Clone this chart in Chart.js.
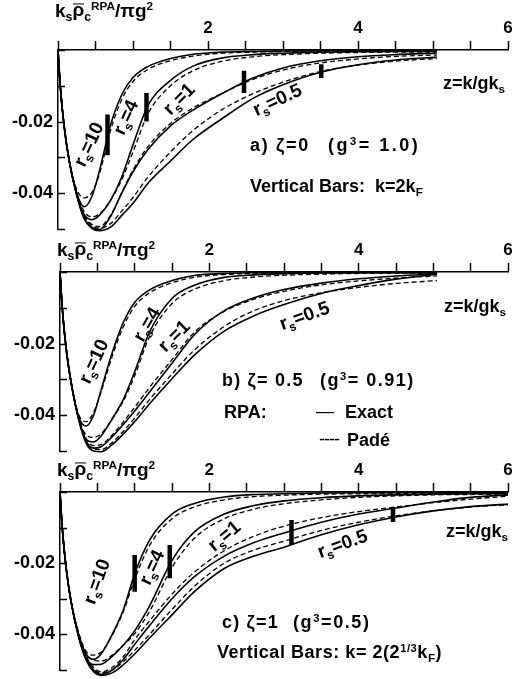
<!DOCTYPE html>
<html>
<head>
<meta charset="utf-8">
<script src="https://cdn.jsdelivr.net/npm/chart.js@4.4.0/dist/chart.umd.min.js"></script>
<style>
  html, body { margin: 0; padding: 0; background: #fff; }
  #page { position: relative; width: 517px; height: 679px; overflow: hidden; font-family: "Liberation Sans", Arial, sans-serif; font-weight: bold; color: #000; }
  canvas { position: absolute; left: 0; }
  .t { position: absolute; white-space: pre; transform: translateY(-50%); font-size: 18px; line-height: 1; }
  .ttl { font-size: 19px; }
  .rs { position: absolute; white-space: pre; font-size: 19px; line-height: 1; transform-origin: center; }
  sub { font-size: 65%; vertical-align: -0.35em; }
  sup { font-size: 62%; vertical-align: 0.55em; }
  .thin { font-weight: normal; }
  .rho { position: relative; }
  .rho::after { content: ""; position: absolute; left: 1px; right: 0px; top: 0.17em; border-top: 1.5px solid #000; }
</style>
</head>
<body>
<div id="page">
  <canvas id="chartA" width="517" height="240" style="top:0px"></canvas>
  <canvas id="chartB" width="517" height="240" style="top:222px"></canvas>
  <canvas id="chartC" width="517" height="237" style="top:442px"></canvas>

  <!-- panel a text -->
  <div class="t ttl" style="left:55px; top:12px">k<sub>s</sub><span class="rho">ρ</span><sub>c</sub><sup>RPA</sup>/πg<sup>2</sup></div>
  <div class="t" style="left:443px; top:84px">z=k/gk<sub>s</sub></div>
  <div class="t" style="left:250px; top:145px; letter-spacing:1.7px">a) ζ=0</div>
  <div class="t" style="left:328px; top:145px; letter-spacing:2.5px">(g<sup>3</sup>= 1.0)</div>
  <div class="t" style="left:250px; top:187px">Vertical Bars:  k=2k<sub>F</sub></div>
  <div class="rs" style="left:90px; top:145px; transform:translate(-50%,-50%) rotate(-65deg)">r<sub>s</sub>=10</div>
  <div class="rs" style="left:127px; top:118px; transform:translate(-50%,-50%) rotate(-65deg)">r<sub>s</sub>=4</div>
  <div class="rs" style="left:180px; top:100px; transform:translate(-50%,-50%) rotate(-45deg)">r<sub>s</sub>=1</div>
  <div class="rs" style="left:278px; top:101px; transform:translate(-50%,-50%) rotate(-25deg)">r<sub>s</sub>=0.5</div>

  <!-- panel b text -->
  <div class="t ttl" style="left:57px; top:251px">k<sub>s</sub><span class="rho">ρ</span><sub>c</sub><sup>RPA</sup>/πg<sup>2</sup></div>
  <div class="t" style="left:444px; top:307px">z=k/gk<sub>s</sub></div>
  <div class="t" style="left:222px; top:380px; letter-spacing:1.2px">b) ζ= 0.5</div>
  <div class="t" style="left:320px; top:380px; letter-spacing:1.5px">(g<sup>3</sup>= 0.91)</div>
  <div class="t" style="left:224px; top:412px">RPA:</div>
  <div class="t thin" style="left:316px; top:411px">—</div>
  <div class="t" style="left:345px; top:412px">Exact</div>
  <div class="t thin" style="left:319px; top:439px; letter-spacing:-1px">----</div>
  <div class="t" style="left:347px; top:440px">Padé</div>
  <div class="rs" style="left:95px; top:362px; transform:translate(-50%,-50%) rotate(-65deg)">r<sub>s</sub>=10</div>
  <div class="rs" style="left:148px; top:325px; transform:translate(-50%,-50%) rotate(-60deg)">r<sub>s</sub>=4</div>
  <div class="rs" style="left:175px; top:337px; transform:translate(-50%,-50%) rotate(-45deg)">r<sub>s</sub>=1</div>
  <div class="rs" style="left:305px; top:317px; transform:translate(-50%,-50%) rotate(-20deg)">r<sub>s</sub>=0.5</div>

  <!-- panel c text -->
  <div class="t ttl" style="left:57px; top:471px">k<sub>s</sub><span class="rho">ρ</span><sub>c</sub><sup>RPA</sup>/πg<sup>2</sup></div>
  <div class="t" style="left:446px; top:532px">z=k/gk<sub>s</sub></div>
  <div class="t" style="left:222px; top:622px; letter-spacing:1.2px">c) ζ=1</div>
  <div class="t" style="left:293px; top:622px; letter-spacing:1.6px">(g<sup>3</sup>=0.5)</div>
  <div class="t" style="left:217px; top:653px; letter-spacing:0.55px">Vertical Bars: k= 2(2<sup>1/3</sup>k<sub>F</sub>)</div>
  <div class="rs" style="left:98px; top:582px; transform:translate(-50%,-50%) rotate(-70deg)">r<sub>s</sub>=10</div>
  <div class="rs" style="left:153px; top:568px; transform:translate(-50%,-50%) rotate(-65deg)">r<sub>s</sub>=4</div>
  <div class="rs" style="left:225px; top:537px; transform:translate(-50%,-50%) rotate(-40deg)">r<sub>s</sub>=1</div>
  <div class="rs" style="left:343px; top:545px; transform:translate(-50%,-50%) rotate(-20deg)">r<sub>s</sub>=0.5</div>
</div>

<script>
// tick labels
const xTickLabels = [2, 4, 6]
const yTickLabels = [-0.02, -0.04]

// z grid (panels a, b) and panel c grid
const zAB = [0, 0.03, 0.08, 0.15, 0.25, 0.35, 0.45, 0.55, 0.7, 0.85, 1.0, 1.2, 1.5, 1.8, 2.2, 2.6, 3.0, 3.5, 4.0, 4.5, 5.05]
const zC = [0, 0.03, 0.08, 0.15, 0.25, 0.35, 0.45, 0.55, 0.7, 0.85, 1.0, 1.2, 1.5, 1.8, 2.2, 2.6, 3.0, 3.5, 4.0, 4.5, 5.0, 5.5, 6.0]

// panel a: zeta = 0
const aExact10 = [0, -0.010, -0.021, -0.031, -0.0400, -0.0438, -0.0410, -0.0340, -0.0210, -0.0125, -0.0077, -0.0046, -0.0024, -0.0012, -0.0006, -0.0004, -0.0003, -0.0002, -0.0001, -0.0001, -0.0001]
const aPade10 = [0, -0.010, -0.021, -0.031, -0.0390, -0.0413, -0.0398, -0.0348, -0.0225, -0.0138, -0.0088, -0.0054, -0.0030, -0.0017, -0.0009, -0.0006, -0.0004, -0.0003, -0.0002, -0.0002, -0.0002]
const aExact4 = [0, -0.010, -0.021, -0.031, -0.0405, -0.0460, -0.0474, -0.0462, -0.0420, -0.0355, -0.0265, -0.0155, -0.0085, -0.0045, -0.0022, -0.0013, -0.0009, -0.0006, -0.0005, -0.0004, -0.0004]
const aPade4 = [0, -0.010, -0.021, -0.031, -0.0400, -0.0452, -0.0466, -0.0458, -0.0420, -0.0362, -0.0285, -0.0178, -0.0100, -0.0058, -0.0031, -0.0019, -0.0013, -0.0009, -0.0007, -0.0006, -0.0006]
const aExact1 = [0, -0.010, -0.021, -0.031, -0.0405, -0.0470, -0.0495, -0.0502, -0.0465, -0.0400, -0.0340, -0.0278, -0.0212, -0.0168, -0.0120, -0.0078, -0.0050, -0.0030, -0.0019, -0.0013, -0.0009]
const aPade1 = [0, -0.010, -0.021, -0.031, -0.0400, -0.0462, -0.0487, -0.0493, -0.0462, -0.0398, -0.0335, -0.0270, -0.0205, -0.0162, -0.0120, -0.0082, -0.0056, -0.0036, -0.0025, -0.0018, -0.0014]
const aExact05 = [0, -0.010, -0.021, -0.031, -0.0405, -0.0472, -0.0498, -0.0505, -0.0495, -0.0462, -0.0428, -0.0372, -0.0310, -0.0250, -0.0190, -0.0135, -0.0097, -0.0062, -0.0041, -0.0028, -0.0020]
const aPade05 = [0, -0.010, -0.021, -0.031, -0.0400, -0.0465, -0.0490, -0.0498, -0.0485, -0.0450, -0.0412, -0.0355, -0.0285, -0.0225, -0.0165, -0.0122, -0.0090, -0.0060, -0.0042, -0.0031, -0.0024]
// vertical bars at k = 2kF (z, top, bottom)
const aBarZ = [0.66, 1.18, 2.48, 3.51]
const aBarTop = [-0.0180, -0.0120, -0.0058, -0.0040]
const aBarBot = [-0.0294, -0.0200, -0.0120, -0.0078]

// panel b: zeta = 0.5
const bExact10 = [0, -0.010, -0.021, -0.031, -0.0405, -0.0430, -0.0400, -0.0330, -0.0225, -0.0140, -0.0085, -0.0050, -0.0024, -0.0010, -0.0004, -0.0002, -0.0001, -0.0001, -0.0001, -0.0001, -0.0001]
const bPade10 = [0, -0.010, -0.021, -0.031, -0.0398, -0.0418, -0.0392, -0.0335, -0.0235, -0.0152, -0.0096, -0.0058, -0.0030, -0.0015, -0.0007, -0.0004, -0.0003, -0.0002, -0.0002, -0.0002, -0.0002]
const bExact4 = [0, -0.010, -0.021, -0.031, -0.0410, -0.0468, -0.0475, -0.0458, -0.0410, -0.0355, -0.0279, -0.0167, -0.0074, -0.0037, -0.0015, -0.0008, -0.0005, -0.0003, -0.0002, -0.0002, -0.0002]
const bPade4 = [0, -0.010, -0.021, -0.031, -0.0405, -0.0455, -0.0462, -0.0452, -0.0410, -0.0360, -0.0290, -0.0180, -0.0088, -0.0048, -0.0024, -0.0014, -0.0009, -0.0006, -0.0004, -0.0003, -0.0003]
const bExact1 = [0, -0.010, -0.021, -0.031, -0.0410, -0.0472, -0.0492, -0.0488, -0.0460, -0.0425, -0.0388, -0.0335, -0.0255, -0.0175, -0.0108, -0.0072, -0.0049, -0.0031, -0.0019, -0.0011, -0.0005]
const bPade1 = [0, -0.010, -0.021, -0.031, -0.0405, -0.0465, -0.0485, -0.0482, -0.0455, -0.0418, -0.0378, -0.0322, -0.0245, -0.0168, -0.0110, -0.0076, -0.0054, -0.0036, -0.0025, -0.0017, -0.0011]
const bExact05 = [0, -0.010, -0.021, -0.031, -0.0412, -0.0478, -0.0500, -0.0502, -0.0482, -0.0452, -0.0418, -0.0368, -0.0298, -0.0232, -0.0165, -0.0122, -0.0091, -0.0060, -0.0038, -0.0020, -0.0006]
const bPade05 = [0, -0.010, -0.021, -0.031, -0.0408, -0.0472, -0.0494, -0.0496, -0.0476, -0.0444, -0.0408, -0.0356, -0.0285, -0.0218, -0.0152, -0.0108, -0.0080, -0.0058, -0.0043, -0.0032, -0.0024]

// panel c: zeta = 1
const cExact10 = [0, -0.010, -0.021, -0.031, -0.0400, -0.0455, -0.0470, -0.0455, -0.0400, -0.0330, -0.0230, -0.0135, -0.0062, -0.0032, -0.0014, -0.0007, -0.0005, -0.0003, -0.0002, -0.0002, -0.0001, -0.0001, -0.0001]
const cPade10 = [0, -0.010, -0.021, -0.031, -0.0395, -0.0448, -0.0458, -0.0450, -0.0402, -0.0335, -0.0245, -0.0150, -0.0075, -0.0042, -0.0022, -0.0013, -0.0009, -0.0006, -0.0005, -0.0004, -0.0004, -0.0003, -0.0003]
const cExact4 = [0, -0.010, -0.021, -0.031, -0.0405, -0.0465, -0.0485, -0.0484, -0.0462, -0.0430, -0.0390, -0.0320, -0.0192, -0.0112, -0.0062, -0.0038, -0.0025, -0.0016, -0.0011, -0.0008, -0.0006, -0.0005, -0.0004]
const cPade4 = [0, -0.010, -0.021, -0.031, -0.0400, -0.0458, -0.0472, -0.0475, -0.0458, -0.0430, -0.0398, -0.0335, -0.0212, -0.0130, -0.0075, -0.0048, -0.0033, -0.0022, -0.0015, -0.0011, -0.0008, -0.0007, -0.0006]
const cExact1 = [0, -0.010, -0.021, -0.031, -0.0405, -0.0468, -0.0500, -0.0512, -0.0500, -0.0470, -0.0428, -0.0375, -0.0300, -0.0238, -0.0180, -0.0142, -0.0115, -0.0085, -0.0062, -0.0045, -0.0028, -0.0015, -0.0008]
const cPade1 = [0, -0.010, -0.021, -0.031, -0.0400, -0.0462, -0.0493, -0.0505, -0.0493, -0.0462, -0.0415, -0.0362, -0.0287, -0.0225, -0.0165, -0.0124, -0.0096, -0.0072, -0.0055, -0.0042, -0.0030, -0.0020, -0.0012]
const cExact05 = [0, -0.010, -0.021, -0.031, -0.0408, -0.0472, -0.0505, -0.0515, -0.0508, -0.0485, -0.0455, -0.0410, -0.0345, -0.0280, -0.0215, -0.0180, -0.0155, -0.0120, -0.0092, -0.0070, -0.0053, -0.0041, -0.0034]
const cPade05 = [0, -0.010, -0.021, -0.031, -0.0403, -0.0466, -0.0498, -0.0508, -0.0500, -0.0476, -0.0445, -0.0400, -0.0330, -0.0265, -0.0200, -0.0163, -0.0138, -0.0108, -0.0085, -0.0067, -0.0053, -0.0042, -0.0036]
// vertical bars at k = 2(2^(1/3) kF)
const cBarZ = [1.0, 1.47, 3.1, 4.46]
const cBarTop = [-0.0177, -0.0149, -0.0079, -0.0042]
const cBarBot = [-0.0280, -0.0242, -0.0149, -0.0084]

Chart.defaults.font.family = "'Liberation Sans', Arial, sans-serif"
Chart.defaults.font.weight = "bold"
Chart.defaults.color = "#000"

function curve(zs, vs, dashed) {
  return {
    data: zs.map((z, i) => ({ x: z, y: vs[i] })),
    borderColor: "#000",
    borderWidth: dashed ? 1.3 : 1.6,
    borderDash: dashed ? [5, 3] : [],
    pointRadius: 0,
    cubicInterpolationMode: "monotone",
    fill: false,
    clip: false,
  }
}

function bars(zs, tops, bots) {
  return zs.map((z, i) => ({
    data: [{ x: z, y: tops[i] }, { x: z, y: bots[i] }],
    borderColor: "#000",
    borderWidth: 4.5,
    borderCapStyle: "butt",
    pointRadius: 0,
    clip: false,
  }))
}

// y ticks point inward on the original figure
const innerTicks = {
  id: "innerTicks",
  afterDraw(chart) {
    const ys = chart.scales.y
    const area = chart.chartArea
    const ctx = chart.ctx
    ctx.save()
    ctx.strokeStyle = "#000"
    ctx.lineWidth = 1.5
    ys.ticks.forEach((t) => {
      const py = Math.round(ys.getPixelForValue(t.value)) + 0.5
      ctx.beginPath()
      ctx.moveTo(area.left, py)
      ctx.lineTo(area.left + 7, py)
      ctx.stroke()
    })
    ctx.restore()
  },
}

function makeChart(id, datasets, yWidth, bottomPad) {
  return new Chart(document.getElementById(id), {
    type: "line",
    data: { datasets },
    plugins: [innerTicks],
    options: {
      responsive: false,
      animation: false,
      events: [],
      layout: { padding: { left: 0, top: 0, right: 9, bottom: bottomPad } },
      plugins: { legend: { display: false }, tooltip: { enabled: false } },
      scales: {
        x: {
          type: "linear",
          position: "top",
          min: 0,
          max: 6,
          afterFit: (s) => { s.height = 50; s.paddingLeft = 0; s.paddingRight = 0 },
          ticks: {
            stepSize: 0.5,
            autoSkip: false,
            maxRotation: 0,
            padding: 2,
            font: { size: 17, weight: "bold" },
            callback: (v) => (xTickLabels.includes(v) ? String(v) : ""),
          },
          grid: { drawOnChartArea: false, drawTicks: true, tickLength: 9, tickColor: "#000", tickWidth: 1.5 },
          border: { color: "#000", width: 1.5 },
        },
        y: {
          type: "linear",
          min: -0.05,
          max: 0,
          afterFit: (s) => { s.width = yWidth; s.paddingTop = 0; s.paddingBottom = 0 },
          ticks: {
            stepSize: 0.01,
            padding: 5,
            font: { size: 18, weight: "bold" },
            callback: (v) => {
              const r = Math.round(v * 100) / 100
              return yTickLabels.includes(r) ? r.toFixed(2) : ""
            },
          },
          grid: { drawOnChartArea: false, drawTicks: false },
          border: { color: "#000", width: 1.5 },
        },
      },
    },
  })
}

const dsA = [
  curve(zAB, aExact10, false), curve(zAB, aPade10, true),
  curve(zAB, aExact4, false), curve(zAB, aPade4, true),
  curve(zAB, aExact1, false), curve(zAB, aPade1, true),
  curve(zAB, aExact05, false), curve(zAB, aPade05, true),
  ...bars(aBarZ, aBarTop, aBarBot),
]
const dsB = [
  curve(zAB, bExact10, false), curve(zAB, bPade10, true),
  curve(zAB, bExact4, false), curve(zAB, bPade4, true),
  curve(zAB, bExact1, false), curve(zAB, bPade1, true),
  curve(zAB, bExact05, false), curve(zAB, bPade05, true),
]
const dsC = [
  curve(zC, cExact10, false), curve(zC, cPade10, true),
  curve(zC, cExact4, false), curve(zC, cPade4, true),
  curve(zC, cExact1, false), curve(zC, cPade1, true),
  curve(zC, cExact05, false), curve(zC, cPade05, true),
  ...bars(cBarZ, cBarTop, cBarBot),
]

makeChart("chartA", dsA, 58, 11)
makeChart("chartB", dsB, 60, 11)
makeChart("chartC", dsC, 60, 9)
</script>
</body>
</html>
